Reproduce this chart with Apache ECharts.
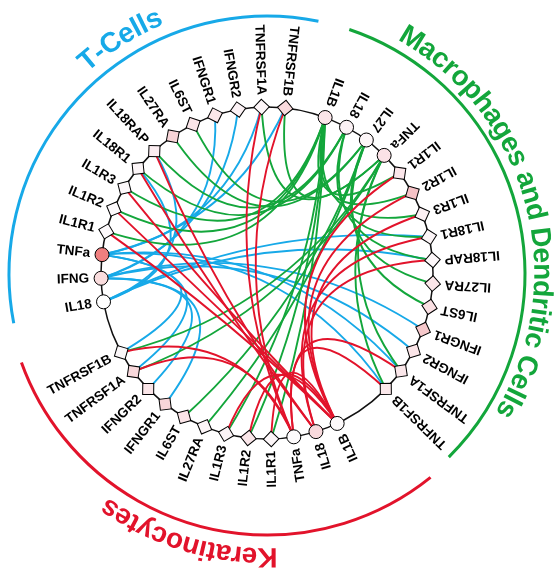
<!DOCTYPE html>
<html>
<head>
<meta charset="utf-8">
<script src="https://cdn.jsdelivr.net/npm/echarts@6/dist/echarts.min.js"></script>
<style>
html, body { margin: 0; padding: 0; background: #fff; }
#chart { width: 556px; height: 569px; }
</style>
</head>
<body>
<div id="chart"></div>
<script>
// cell types, genes listed clockwise around the ring
var groupNames = ['T-Cells', 'Macrophages and Dendritic Cells', 'Keratinocytes'];
var tCellGenes = ['IL18', 'IFNG', 'TNFa', 'IL1R1', 'IL1R2', 'IL1R3', 'IL18R1', 'IL18RAP', 'IL27RA', 'IL6ST', 'IFNGR1', 'IFNGR2', 'TNFRSF1A', 'TNFRSF1B'];
var macroGenes = ['IL1B', 'IL18', 'IL27', 'TNFa', 'IL1R1', 'IL1R2', 'IL1R3', 'IL18R1', 'IL18RAP', 'IL27RA', 'IL6ST', 'IFNGR1', 'IFNGR2', 'TNFRSF1A', 'TNFRSF1B'];
var keraGenes = ['IL1B', 'IL18', 'TNFa', 'IL1R1', 'IL1R2', 'IL1R3', 'IL27RA', 'IL6ST', 'IFNGR1', 'IFNGR2', 'TNFRSF1A', 'TNFRSF1B'];

// node shade (expression level)
var tCellShade = ['#ffffff', '#f9dcdd', '#f07f7f', '#fdfafc', '#fdfafc', '#fdf9fb', '#fcf6f8', '#fbedf1', '#f7d4d7', '#fae5e8', '#fbe7ea', '#fcf2f5', '#fdf6f8', '#f9dadd'];
var macroShade = ['#fbe5e9', '#fcf2f5', '#fdf6f8', '#fbe2e6', '#fbe6ea', '#f6c2c6', '#fcf0f3', '#fdf6f8', '#fdf8fa', '#fbe6e9', '#fae0e3', '#f6c8cb', '#fbe5e8', '#fbe7ea', '#fbe8eb'];
var keraShade = ['#fdfafb', '#f8d9dc', '#fdfbfc', '#fcf6f8', '#fae6e9', '#fbf4f7', '#fcf5f7', '#fbe5e8', '#f8d6d9', '#fae5e8', '#f8d8db', '#fbf7f9'];

// ligand -> receptors
var ligands = ['IL1B', 'IL18', 'IL27', 'TNFa', 'IFNG'];
var receptorsOf = {
    IL1B: ['IL1R1', 'IL1R2', 'IL1R3'],
    IL18: ['IL18R1', 'IL18RAP'],
    IL27: ['IL27RA', 'IL6ST'],
    TNFa: ['TNFRSF1A', 'TNFRSF1B'],
    IFNG: ['IFNGR1', 'IFNGR2']
};

// layout
var cx = 267, cy = 273, ringR = 166;
var groupArc = [[190, 83.7], [69.5, -44.3], [295, 208.6]];   // first / last node angle
var groupColor = ['#17a9e8', '#13a63b', '#e2132b'];
var outerArc = [[78.5, 191, 258], [-45.2, 71.4, 258], [199.8, 308.8, 261]];
var titlePos = [[122.3, 277], [14.7, 275], [253.4, 283]];   // mid angle, radius
var pullIn = 0.8;     // bow toward the ring centre
var sideBias = 0.15;  // extra bow to the left of ligand -> receptor
var labelGap = 12;
var fontFam = '"Liberation Sans", Arial, sans-serif';

var cellGenes = [tCellGenes, macroGenes, keraGenes];
var cellShade = [tCellShade, macroShade, keraShade];
var cellKey = ['T', 'M', 'K'];

var nodes = [];
var angleOf = {};
cellGenes.forEach(function (genes, g) {
    var a0 = groupArc[g][0], a1 = groupArc[g][1];
    genes.forEach(function (gene, i) {
        var a = a0 + (a1 - a0) * i / (genes.length - 1);
        var id = cellKey[g] + '|' + gene;
        angleOf[id] = a;
        var isLig = ligands.indexOf(gene) >= 0;
        nodes.push({
            name: id,
            gene: gene,
            value: [1, (a + 360) % 360],
            symbol: isLig ? 'circle' : 'rect',
            symbolSize: isLig ? 14 : 11,
            symbolRotate: isLig ? 0 : a + 45,
            itemStyle: { color: cellShade[g][i] },
            label: { rotate: a - 180, offset: [-labelGap, 0] }
        });
    });
});

function ringPoint(a) {
    var r = a * Math.PI / 180;
    return [cx + ringR * Math.cos(r), cy - ringR * Math.sin(r)];
}

// echarts puts the control point at mid + c * (dy, -dx)
function curvenessFor(a1, a2) {
    var p1 = ringPoint(a1), p2 = ringPoint(a2);
    var mx = (p1[0] + p2[0]) / 2, my = (p1[1] + p2[1]) / 2;
    var dx = p2[0] - p1[0], dy = p2[1] - p1[1];
    var L = Math.sqrt(dx * dx + dy * dy);
    var vx = cx - mx, vy = cy - my;
    var Ds = (dy * vx - dx * vy) / L;
    return pullIn * Ds / L + sideBias;
}

var edges = [];
cellGenes.forEach(function (genes, g) {
    genes.forEach(function (gene) {
        if (!receptorsOf[gene]) return;
        var src = cellKey[g] + '|' + gene;
        receptorsOf[gene].forEach(function (rec) {
            cellGenes.forEach(function (genes2, h) {
                if (genes2.indexOf(rec) < 0) return;
                var dst = cellKey[h] + '|' + rec;
                edges.push({
                    source: src,
                    target: dst,
                    lineStyle: { color: groupColor[g], curveness: curvenessFor(angleOf[src], angleOf[dst]) }
                });
            });
        });
    });
});

// outer arcs and curved titles
var graphics = [];
var measure = document.createElement('canvas').getContext('2d');
var titleFont = 'bold 28px ' + fontFam;
measure.font = titleFont;
groupNames.forEach(function (title, g) {
    var arc = outerArc[g];
    graphics.push({
        type: 'arc',
        shape: { cx: cx, cy: cy + 1, r: arc[2], startAngle: -arc[1] * Math.PI / 180, endAngle: -arc[0] * Math.PI / 180, clockwise: true },
        style: { stroke: groupColor[g], lineWidth: 3, fill: null },
        silent: true
    });
    var rr = titlePos[g][1];
    var total = measure.measureText(title).width;
    var start = titlePos[g][0] + (total / 2) / rr * 180 / Math.PI;
    var run = 0;
    for (var k = 0; k < title.length; k++) {
        var w = measure.measureText(title[k]).width;
        var a = start - (run + w / 2) / rr * 180 / Math.PI;
        run += w;
        if (title[k] === ' ') continue;
        var rad = a * Math.PI / 180;
        graphics.push({
            type: 'text',
            x: cx + rr * Math.cos(rad),
            y: cy - rr * Math.sin(rad),
            rotation: (a - 90) * Math.PI / 180,
            style: { text: title[k], font: titleFont, fill: groupColor[g], align: 'center', verticalAlign: 'middle' },
            silent: true
        });
    }
});

var chart = echarts.init(document.getElementById('chart'));
var option = {
    animation: false,
    backgroundColor: '#fff',
    polar: { center: [cx, cy], radius: ringR },
    angleAxis: {
        type: 'value', min: 0, max: 360, startAngle: 0, clockwise: false,
        axisLine: { lineStyle: { color: '#111', width: 1.5 } },
        axisTick: { show: false }, axisLabel: { show: false }, splitLine: { show: false }
    },
    radiusAxis: {
        type: 'value', min: 0, max: 1,
        axisLine: { show: false }, axisTick: { show: false }, axisLabel: { show: false }, splitLine: { show: false }
    },
    graphic: { elements: graphics },
    series: [{
        type: 'graph',
        coordinateSystem: 'polar',
        layout: 'none',
        data: nodes,
        links: edges,
        itemStyle: { borderColor: '#000', borderWidth: 1 },
        lineStyle: { width: 1.9, opacity: 1 },
        label: {
            show: true,
            position: 'inside',
            align: 'right',
            verticalAlign: 'middle',
            color: '#000',
            fontSize: 13.5,
            fontWeight: 'bold',
            fontFamily: fontFam,
            textBorderWidth: 0,
            formatter: function (p) { return p.data.gene; }
        },
        emphasis: { disabled: true }
    }]
};
chart.setOption(option);
</script>
</body>
</html>
